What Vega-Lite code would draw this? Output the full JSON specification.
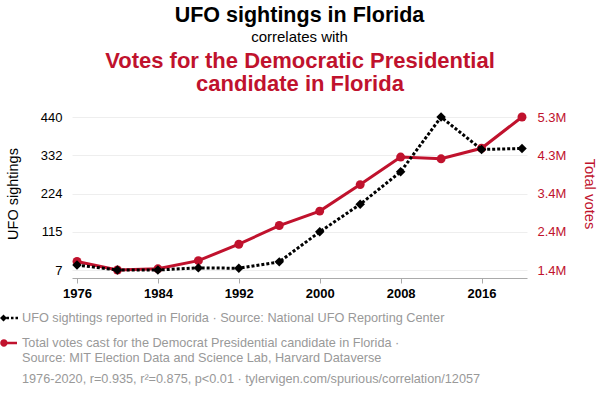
{
  "$schema": "https://vega.github.io/schema/vega-lite/v6.json",
  "width": 455,
  "height": 169,
  "autosize": {"type": "none"},
  "padding": {"left": 72, "top": 109, "right": 73, "bottom": 120},
  "config": {"font": "Liberation Sans", "view": {"stroke": null}},
  "title": {
    "text": "UFO sightings in Florida",
    "subtitle": "correlates with",
    "fontSize": 21.5,
    "fontWeight": "bold",
    "color": "#000000",
    "subtitleFontSize": 15,
    "subtitleColor": "#000000",
    "subtitlePadding": 4,
    "anchor": "middle",
    "offset": 4
  },
  "data": {
    "values": [
      {"year": 1976, "ufo": 21, "votes": 1636000},
      {"year": 1980, "ufo": 7, "votes": 1419475},
      {"year": 1984, "ufo": 7, "votes": 1448816},
      {"year": 1988, "ufo": 13, "votes": 1656701},
      {"year": 1992, "ufo": 12, "votes": 2072698},
      {"year": 1996, "ufo": 30, "votes": 2546870},
      {"year": 2000, "ufo": 115, "votes": 2912253},
      {"year": 2004, "ufo": 193, "votes": 3583544},
      {"year": 2008, "ufo": 285, "votes": 4282074},
      {"year": 2012, "ufo": 440, "votes": 4237756},
      {"year": 2016, "ufo": 348, "votes": 4504975},
      {"year": 2020, "ufo": 351, "votes": 5297045}
    ]
  },
  "layer": [
    {
      "encoding": {
        "x": {
          "field": "year", "type": "quantitative",
          "scale": {"domain": [1976, 2020], "padding": 5, "nice": false, "zero": false},
          "axis": {
            "orient": "top", "labels": false, "ticks": false, "domain": false, "grid": false,
            "title": ["Votes for the Democratic Presidential", "candidate in Florida"],
            "titleFontSize": 22, "titleFontWeight": "bold", "titleColor": "#c0122d",
            "titleLineHeight": 23, "titlePadding": 14
          }
        },
        "y": {
          "field": "votes", "type": "quantitative",
          "scale": {"domain": [1419475, 5297045], "padding": 8, "nice": false, "zero": false},
          "axis": {
            "orient": "right", "title": "Total votes", "titleColor": "#c0122d", "titleFontSize": 14.8,
            "titleFontWeight": "normal", "titlePadding": 16,
            "values": [1419475, 2388867.5, 3358260, 4327652.5, 5297045],
            "format": ".2s", "labelColor": "#c0122d", "labelFontSize": 13, "labelPadding": 10,
            "ticks": false, "domain": false, "grid": false
          }
        }
      },
      "layer": [
        {"mark": {"type": "line", "color": "#c0122d", "strokeWidth": 3}},
        {
          "mark": {"type": "point", "shape": "circle", "filled": true, "size": 80, "opacity": 1},
          "encoding": {
            "color": {
              "datum": "votes",
              "scale": {"domain": ["ufo", "votes"], "range": ["#000000", "#c0122d"]},
              "legend": {
                "orient": "none",
                "legendX": -72,
                "legendY": 199,
                "direction": "vertical",
                "title": "1976-2020, r=0.935, r²=0.875, p<0.01 · tylervigen.com/spurious/correlation/12057",
                "titleOrient": "bottom",
                "titleFontSize": 12.7,
                "titleFontWeight": "normal",
                "titleColor": "#999999",
                "titlePadding": 9,
                "titleLimit": 0,
                "labelFontSize": 12.7,
                "labelColor": "#999999",
                "labelLimit": 0,
                "labelOffset": 2,
                "labelLineHeight": 15.5,
                "rowPadding": 8,
                "symbolSize": 400,
                "symbolStrokeWidth": 0,
                "symbolOpacity": 1,
                "labelExpr": "datum.value === 'ufo' ? 'UFO sightings reported in Florida · Source: National UFO Reporting Center' : ['Total votes cast for the Democrat Presidential candidate in Florida ·', 'Source: MIT Election Data and Science Lab, Harvard Dataverse']",
                "encode": {
                  "title": {"update": {"dx": {"value": 22}}},
                  "symbols": {
                    "update": {
                      "shape": {"signal": "datum.value === 'ufo' ? 'M-1,0L-0.65,-0.35L-0.3,0L-0.65,0.35Z M-0.35,-0.13H-0.1V0.13H-0.35Z M0.1,-0.13H0.35V0.13H0.1Z M0.55,-0.13H0.8V0.13H0.55Z' : 'M-0.98,0A0.37,0.37 0 1,1 -0.24,0A0.37,0.37 0 1,1 -0.98,0Z M-0.3,-0.12H0.7V0.12H-0.3Z'"}
                    }
                  }
                }
              }
            }
          }
        }
      ]
    },
    {
      "encoding": {
        "x": {
          "field": "year", "type": "quantitative",
          "scale": {"domain": [1976, 2020], "padding": 5, "nice": false, "zero": false},
          "axis": {
            "orient": "bottom", "title": null, "values": [1976, 1984, 1992, 2000, 2008, 2016],
            "format": "d", "labelFontSize": 13, "labelFontWeight": "bold", "labelColor": "#000000",
            "labelPadding": 4, "tickSize": 5, "tickColor": "#aaaaaa", "domainColor": "#aaaaaa",
            "grid": false
          }
        },
        "y": {
          "field": "ufo", "type": "quantitative",
          "scale": {"domain": [7, 440], "padding": 8, "nice": false, "zero": false},
          "axis": {
            "orient": "left", "title": "UFO sightings", "titleFontSize": 14.5, "titleFontWeight": "normal",
            "titleColor": "#000000", "titlePadding": 20,
            "values": [7, 115.25, 223.5, 331.75, 440], "format": ".0f",
            "labelFontSize": 13, "labelColor": "#000000", "labelPadding": 10,
            "ticks": false, "domain": false, "grid": true, "gridColor": "#eeeeee"
          }
        }
      },
      "layer": [
        {"mark": {"type": "line", "color": "#000000", "strokeWidth": 3, "strokeDash": [3, 2]}},
        {
          "mark": {"type": "point", "shape": "diamond", "filled": true, "size": 90, "opacity": 1},
          "encoding": {"color": {"datum": "ufo"}}
        }
      ]
    }
  ],
  "resolve": {"scale": {"x": "independent", "y": "independent"}, "axis": {"x": "independent", "y": "independent"}}
}
